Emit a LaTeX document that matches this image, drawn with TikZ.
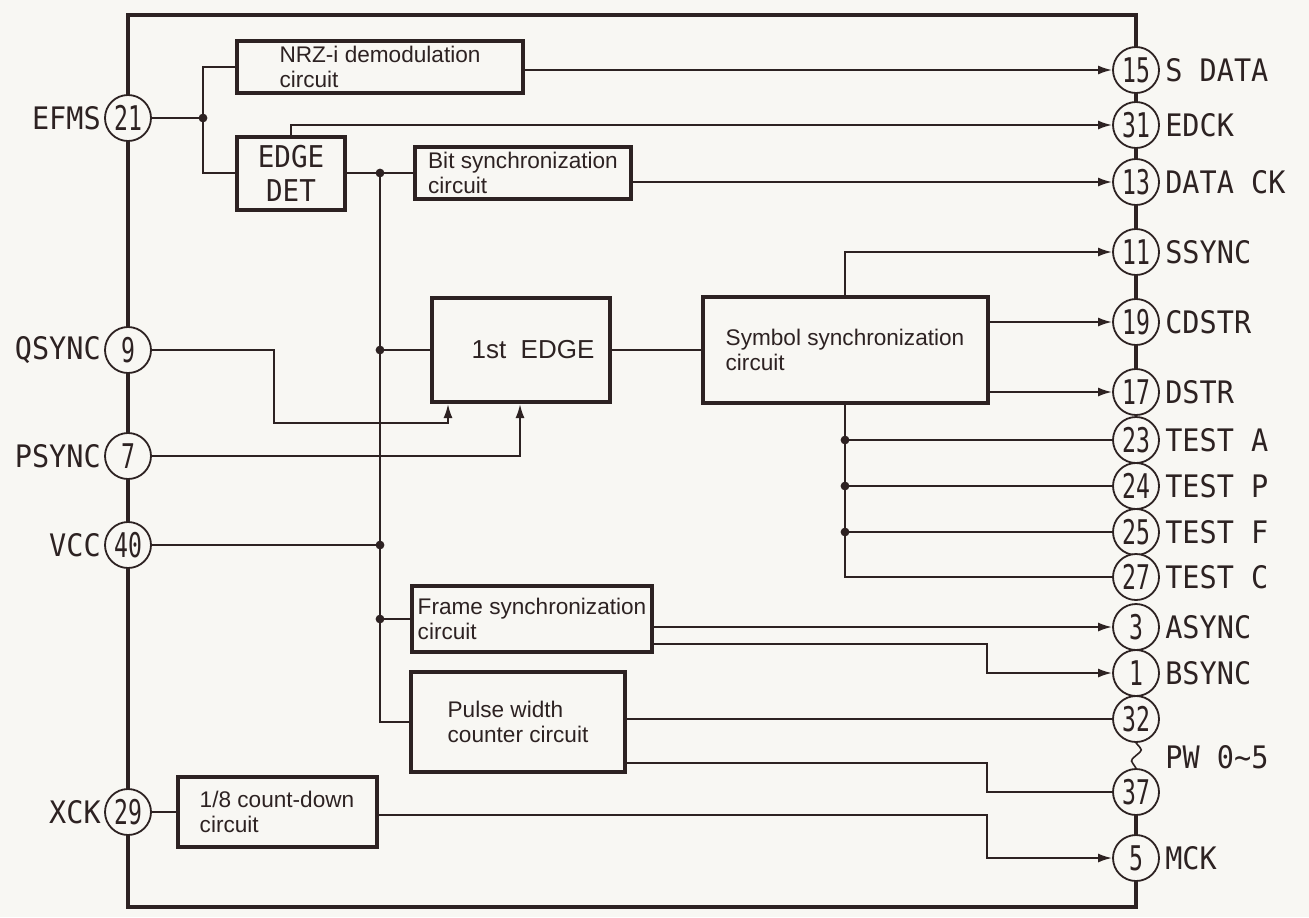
\documentclass[tikz,border=0pt]{standalone}
\usepackage{fontspec}
\setmainfont{Liberation Sans}
\newfontfamily\pinfont[FakeStretch=0.92]{DejaVu Sans Mono}
\newfontfamily\numfont[FakeStretch=0.68]{DejaVu Sans Mono}
\usetikzlibrary{arrows.meta,backgrounds,calc}
\definecolor{ink}{RGB}{45,34,34}
\definecolor{paper}{RGB}{248,247,243}
\begin{document}
\begin{tikzpicture}[x=0.5pt,y=-0.5pt,
 conn/.style={draw=ink,line width=1pt},
 arr/.style={conn,-{Latex[length=7pt,width=4.5pt]}},
 blk/.style={draw=ink,line width=2pt,fill=paper,inner sep=0pt,align=left,text=ink,font=\fontsize{11.3}{12.5}\selectfont},
 pin/.style={circle,draw=ink,line width=0.9pt,fill=paper,minimum size=23pt,inner sep=0pt,text=ink,font=\numfont\fontsize{17}{17}\selectfont},
 lbl/.style={inner sep=0pt,text=ink,font=\pinfont\fontsize{15.5}{18}\selectfont},
 frm/.style={draw=ink,line width=2.4pt},
 dot/.style={fill=ink}]
\useasboundingbox (0,0) rectangle (1309,917);
% blocks
\node[blk,minimum width=143pt,minimum height=26pt] (nrz) at (380,67) {NRZ-i demodulation\\circuit};
\node[blk,minimum width=54pt,minimum height=36.5pt,align=center,font=\pinfont\fontsize{15}{17}\selectfont] (edge) at (291,173) {EDGE\\DET};
\node[blk,minimum width=108pt,minimum height=26pt] (bit) at (523,173) {Bit synchronization\\circuit};
\node[blk,minimum width=89pt,minimum height=52pt,font=\fontsize{13}{15}\selectfont] (first) at (521,350) {\hspace*{12pt}1st\ \ EDGE};
\node[blk,minimum width=142.5pt,minimum height=53pt] (sym) at (845,350) {Symbol synchronization\\circuit};
\node[blk,minimum width=120pt,minimum height=33pt] (frame) at (532,619) {Frame synchronization\\circuit};
\node[blk,minimum width=107pt,minimum height=50pt] (pulse) at (518,722) {Pulse width\\counter circuit};
\node[blk,minimum width=99.5pt,minimum height=35pt] (cnt) at (277,812) {1/8 count-down\\circuit};
% pins left
\node[pin] (p21) at (128,118) {21};
\node[pin] (p9) at (128,350) {9};
\node[pin] (p7) at (128,456) {7};
\node[pin] (p40) at (128,545) {40};
\node[pin] (p29) at (128,812) {29};
% pins right
\node[pin] (p15) at (1136,70) {15};
\node[pin] (p31) at (1136,125) {31};
\node[pin] (p13) at (1136,182) {13};
\node[pin] (p11) at (1136,252) {11};
\node[pin] (p19) at (1136,322) {19};
\node[pin] (p17) at (1136,392) {17};
\node[pin] (p23) at (1136,440) {23};
\node[pin] (p24) at (1136,486) {24};
\node[pin] (p25) at (1136,532) {25};
\node[pin] (p27) at (1136,577) {27};
\node[pin] (p3) at (1136,627) {3};
\node[pin] (p1) at (1136,673) {1};
\node[pin] (p32) at (1136,719) {32};
\node[pin] (p37) at (1136,792) {37};
\node[pin] (p5) at (1136,858) {5};
% labels
\node[lbl,anchor=east] (l21) at ($(p21.west)+(-3,0)$) {EFMS};
\node[lbl,anchor=east] (l9) at ($(p9.west)+(-3,0)$) {QSYNC};
\node[lbl,anchor=east] (l7) at ($(p7.west)+(-3,0)$) {PSYNC};
\node[lbl,anchor=east] (l40) at ($(p40.west)+(-3,0)$) {VCC};
\node[lbl,anchor=east] (l29) at ($(p29.west)+(-3,0)$) {XCK};
\node[lbl,anchor=west] (l15) at ($(p15.east)+(5,0)$) {S DATA};
\node[lbl,anchor=west] (l31) at ($(p31.east)+(5,0)$) {EDCK};
\node[lbl,anchor=west] (l13) at ($(p13.east)+(5,0)$) {DATA CK};
\node[lbl,anchor=west] (l11) at ($(p11.east)+(5,0)$) {SSYNC};
\node[lbl,anchor=west] (l19) at ($(p19.east)+(5,0)$) {CDSTR};
\node[lbl,anchor=west] (l17) at ($(p17.east)+(5,0)$) {DSTR};
\node[lbl,anchor=west] (l23) at ($(p23.east)+(5,0)$) {TEST A};
\node[lbl,anchor=west] (l24) at ($(p24.east)+(5,0)$) {TEST P};
\node[lbl,anchor=west] (l25) at ($(p25.east)+(5,0)$) {TEST F};
\node[lbl,anchor=west] (l27) at ($(p27.east)+(5,0)$) {TEST C};
\node[lbl,anchor=west] (l3) at ($(p3.east)+(5,0)$) {ASYNC};
\node[lbl,anchor=west] (l1) at ($(p1.east)+(5,0)$) {BSYNC};
\node[lbl,anchor=west] (lpw) at (1165,757) {PW 0\textasciitilde5};
\node[lbl,anchor=west] (l5) at ($(p5.east)+(5,0)$) {MCK};
% helper coordinates
\coordinate (bus) at (380,0);
\coordinate (j1) at (203,118);
\coordinate (j2) at (edge.east -| bus);
\coordinate (q1) at (274,423);
\coordinate (qa) at ($(first.south west)+(18,0)$);
\coordinate (pa) at ($(first.south west)+(90,0)$);
\coordinate (r1) at (987,644);
\coordinate (r2) at (987,763);
\coordinate (r3) at (987,815);
% connectors
\draw[conn] (p21) -- (j1);
\draw[conn] (nrz.west) -| (j1) |- (edge.west);
\draw[arr] (nrz.east |- p15) -- (p15);
\draw[arr] (edge.north) |- (p31);
\draw[conn] (edge.east) -- (bit.west);
\draw[arr] (bit.east |- p13) -- (p13);
\draw[conn] (j2) |- (pulse.west);
\draw[conn] (first.west -| bus) -- (first.west);
\draw[conn] (p40) -- (p40 -| bus);
\draw[conn] (frame.west -| bus) -- (frame.west);
\draw[arr] (p9) -| (q1) -| (qa);
\draw[arr] (p7) -| (pa);
\draw[conn] (first.east) -- (sym.west);
\draw[arr] (sym.north) |- (p11);
\draw[arr] (sym.east |- p19) -- (p19);
\draw[arr] (sym.east |- p17) -- (p17);
\draw[conn] (sym.south) |- (p27);
\draw[conn] (sym.south |- p23) -- (p23);
\draw[conn] (sym.south |- p24) -- (p24);
\draw[conn] (sym.south |- p25) -- (p25);
\draw[arr] (frame.east |- p3) -- (p3);
\draw[arr] (frame.east |- r1) -- (r1) |- (p1);
\draw[conn] (pulse.east |- p32) -- (p32);
\draw[conn] (pulse.east |- r2) -- (r2) |- (p37);
\draw[conn] (p29) -- (cnt.west);
\draw[arr] (cnt.east |- r3) -- (r3) |- (p5);
% dots
\foreach \c in {j1,j2} \fill[dot] (\c) circle (2.2pt);
\fill[dot] (first.west -| bus) circle (2.2pt);
\fill[dot] (p40 -| bus) circle (2.2pt);
\fill[dot] (frame.west -| bus) circle (2.2pt);
\fill[dot] (sym.south |- p23) circle (2.2pt);
\fill[dot] (sym.south |- p24) circle (2.2pt);
\fill[dot] (sym.south |- p25) circle (2.2pt);
% frame
\begin{scope}[on background layer]
\fill[paper] (0,0) rectangle (1309,917);
\coordinate (ftl) at (128,15);
\coordinate (fbl) at (128,907);
\draw[frm] (p15.center) -- (p15 |- ftl) -- (ftl) -- (fbl) -- (p5 |- fbl) -- (p5.center);
\draw[frm] (p15.center) -- (p17.center);
\draw[frm] (p37.center) -- (p5.center);
\end{scope}
\draw[ink,line width=0.8pt] (p32.south) .. controls +(7,8) and +(7,-6) .. ($(p32.south)!0.5!(p37.north)$) .. controls +(-7,6) and +(-5,-8) .. (p37.north);
\end{tikzpicture}
\end{document}
